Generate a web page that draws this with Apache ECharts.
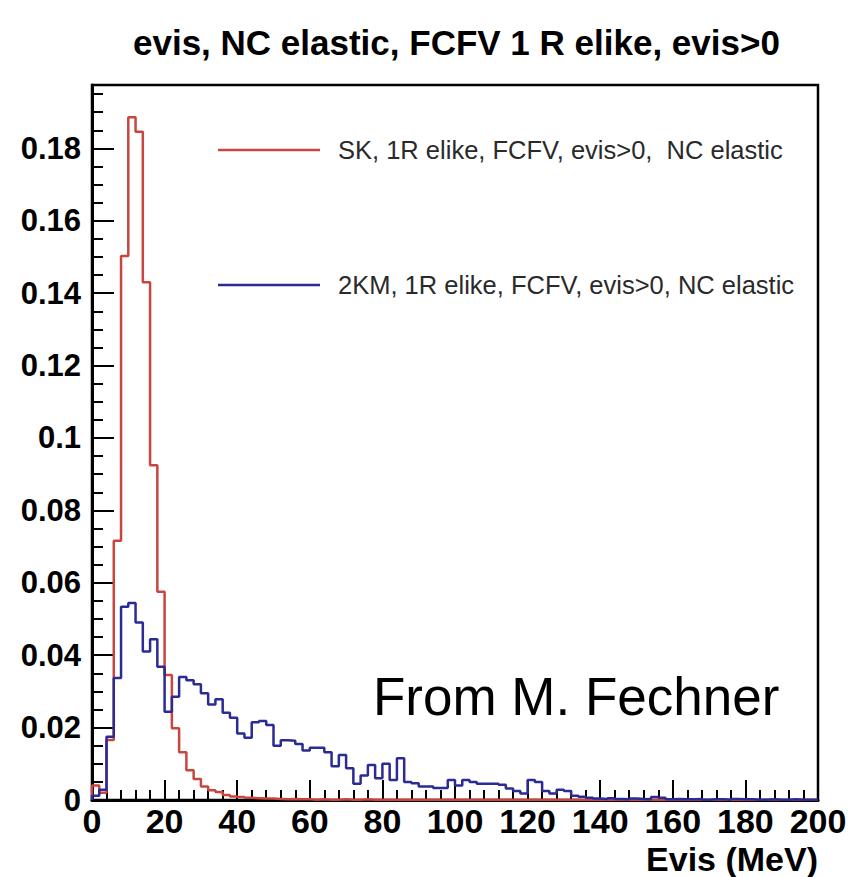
<!DOCTYPE html>
<html>
<head>
<meta charset="utf-8">
<script src="https://cdn.jsdelivr.net/npm/echarts@6/dist/echarts.min.js"></script>
<style>
  html, body { margin: 0; padding: 0; background: #fff; }
  #chart { width: 857px; height: 877px; }
</style>
</head>
<body>
<div id="chart"></div>
<script>
// histogram binning (MeV)
const binWidth = 2
const xMin = 0
const xMax = 200

const skName = 'SK, 1R elike, FCFV, evis>0,  NC elastic'
const kmName = '2KM, 1R elike, FCFV, evis>0, NC elastic'

// SK, one value per 2 MeV bin from 0 to 200
const skValues = [
  0.0040, 0.0020, 0.0166, 0.0716, 0.1503, 0.1886, 0.1846, 0.1430, 0.0925, 0.0575,
  0.0345, 0.0198, 0.0132, 0.0082, 0.0058, 0.0037, 0.0027, 0.0022, 0.0014, 0.0010,
  0.0008, 0.0006, 0.0005, 0.0004, 0.0004, 0.0003, 0.0002, 0.0003, 0.0002, 0.0002,
  0.0001, 0.0002, 0.0001, 0.0001, 0.0002, 0.0001, 0.0001, 0.0002, 0.0001, 0.0001,
  0.0001, 0.0001, 0.0001, 0.0001, 0.0001, 0.0001, 0.0001, 0.0001, 0.0001, 0.0001,
  0.0001, 0.0001, 0.0001, 0.0001, 0.0001, 0.0001, 0.0001, 0.0001, 0.0001, 0.0001,
  0.0001, 0.0001, 0.0001, 0.0001, 0.0001, 0.0001, 0.0001, 0, 0, 0,
  0, 0, 0, 0, 0, 0, 0, 0, 0, 0,
  0, 0, 0, 0, 0, 0, 0, 0, 0, 0,
  0, 0, 0, 0, 0, 0, 0, 0, 0, 0
]

// 2KM, same binning
const kmValues = [
  0.0012, 0.0028, 0.0175, 0.0337, 0.0534, 0.0544, 0.0490, 0.0410, 0.0444, 0.0368,
  0.0244, 0.0285, 0.0340, 0.0331, 0.0320, 0.0295, 0.0264, 0.0278, 0.0241, 0.0227,
  0.0184, 0.0172, 0.0215, 0.0218, 0.0207, 0.0150, 0.0165, 0.0164, 0.0155, 0.0137,
  0.0144, 0.0144, 0.0132, 0.0093, 0.0124, 0.0088, 0.0045, 0.0068, 0.0097, 0.0060,
  0.0100, 0.0055, 0.0115, 0.0050, 0.0046, 0.0037, 0.0037, 0.0033, 0.0033, 0.0055,
  0.0040, 0.0055, 0.0050, 0.0045, 0.0045, 0.0045, 0.0042, 0.0032, 0.0025, 0.0018,
  0.0055, 0.0050, 0.0025, 0.0018, 0.0028, 0.0025, 0.0012, 0.0009, 0.0006, 0.0004,
  0.0003, 0.0005, 0.0003, 0.0002, 0.0004, 0.0003, 0.0002, 0.0008, 0.0006, 0.0002,
  0.0003, 0.0002, 0.0002, 0.0003, 0.0001, 0.0002, 0.0002, 0.0001, 0.0003, 0.0002,
  0.0002, 0.0001, 0.0001, 0.0002, 0.0001, 0.0001, 0.0002, 0.0001, 0.0001, 0.0001
]

const yMax = 0.1975

// turn bin contents into step points: left edge of each bin, plus closing edge
function toSteps(values) {
  const pts = [[xMin, 0]]
  values.forEach((v, i) => pts.push([xMin + i * binWidth, v]))
  pts.push([xMax, values[values.length - 1]])
  return pts
}

const FONT = 'Liberation Sans, Arial, Helvetica, sans-serif'

const legendText = { fontFamily: FONT, fontSize: 25.5, color: '#2a2a2a', lineHeight: 30, padding: [0, 0, 0, 13] }

const chart = echarts.init(document.getElementById('chart'), null, { renderer: 'svg' })

chart.setOption({
  animation: false,
  backgroundColor: '#fff',
  grid: {
    left: 92, right: 39, top: 85, bottom: 77,
    show: true, borderColor: '#000', borderWidth: 2.5,
    containLabel: false
  },
  legend: [
    {
      data: [skName], left: 213, top: 130, selectedMode: false,
      icon: 'rect', itemWidth: 102, itemHeight: 2.5,
      textStyle: legendText
    },
    {
      data: [kmName], left: 213, top: 265, selectedMode: false,
      icon: 'rect', itemWidth: 102, itemHeight: 2.5,
      textStyle: legendText
    }
  ],
  xAxis: {
    type: 'value', min: xMin, max: xMax, interval: 20,
    axisLine: { show: true, onZero: false, lineStyle: { color: '#000', width: 3 } },
    axisTick: { show: true, inside: true, length: 20, lineStyle: { color: '#000', width: 2 } },
    minorTick: { show: true, splitNumber: 5, length: 10, lineStyle: { color: '#000', width: 2 } },
    axisLabel: { fontFamily: FONT, fontSize: 34, fontWeight: 'bold', color: '#000', margin: 4 },
    splitLine: { show: false }
  },
  yAxis: [
    {
      type: 'value', min: 0, max: yMax, interval: 0.02,
      axisLine: { show: true, lineStyle: { color: '#000', width: 3 } },
      axisTick: { show: true, inside: true, length: 22, lineStyle: { color: '#000', width: 2 } },
      axisLabel: {
        fontFamily: FONT, fontSize: 31, fontWeight: 'bold', color: '#000', margin: 11,
        showMaxLabel: false,
        formatter: v => (v === 0 ? '0' : String(+v.toFixed(2)))
      },
      splitLine: { show: false }
    },
    {
      // minor ticks every 0.005
      type: 'value', min: 0, max: yMax, interval: 0.005, position: 'left',
      axisLine: { show: false },
      axisTick: { show: true, inside: true, length: 11, lineStyle: { color: '#000', width: 2 } },
      axisLabel: { show: false },
      splitLine: { show: false }
    }
  ],
  graphic: [
    {
      type: 'text', left: 133, top: 25,
      style: { text: 'evis, NC elastic, FCFV 1 R elike, evis>0', font: 'bold 35px ' + FONT, fill: '#000' }
    },
    {
      type: 'text', right: 39, top: 842,
      style: { text: 'Evis (MeV)', font: 'bold 34px ' + FONT, fill: '#000' }
    },
    {
      type: 'text', left: 373, top: 670,
      style: { text: 'From M. Fechner', font: '53px ' + FONT, fill: '#000' }
    }
  ],
  series: [
    {
      name: skName, type: 'line', step: 'end', yAxisIndex: 0,
      symbol: 'none', data: toSteps(skValues),
      lineStyle: { color: '#c8463f', width: 2.5 }, itemStyle: { color: '#c8463f' }
    },
    {
      name: kmName, type: 'line', step: 'end', yAxisIndex: 0,
      symbol: 'none', data: toSteps(kmValues),
      lineStyle: { color: '#2b2b95', width: 2.5 }, itemStyle: { color: '#2b2b95' }
    }
  ]
})
</script>
</body>
</html>
